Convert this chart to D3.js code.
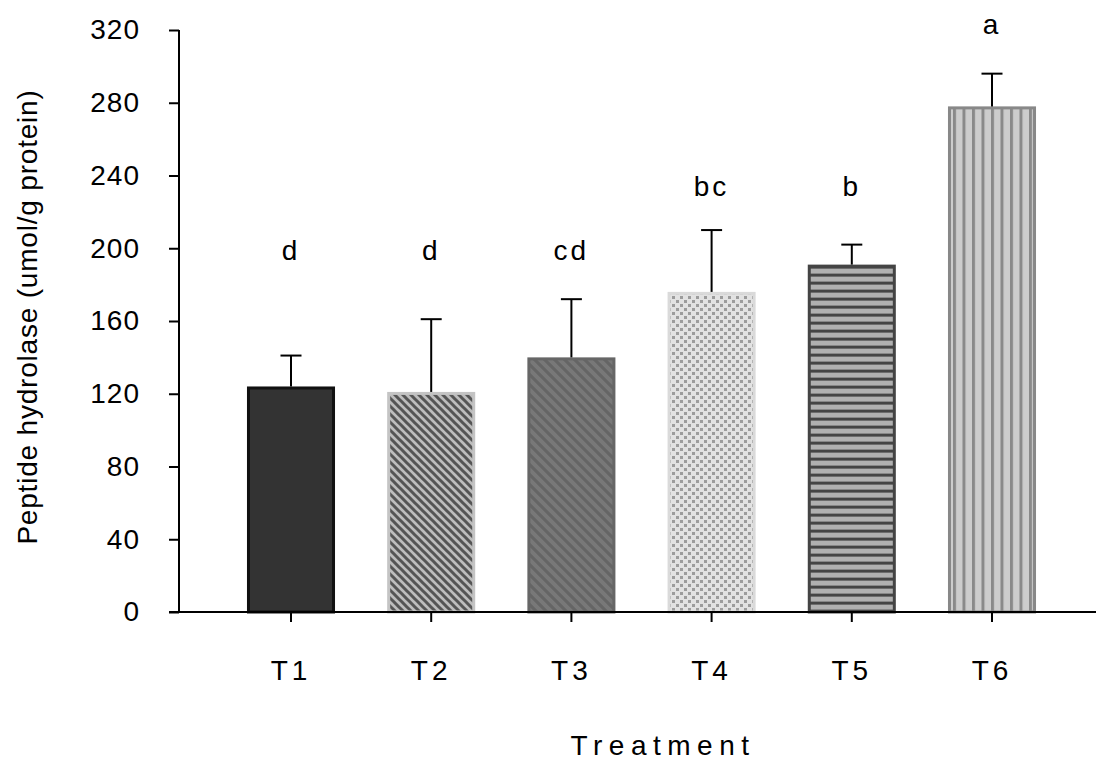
<!DOCTYPE html>
<html><head><meta charset="utf-8">
<script src="https://cdn.jsdelivr.net/npm/d3@7"></script>
<style>body{margin:0;background:#fff}text{font-family:Arial,"Liberation Sans",sans-serif}</style>
</head><body>
<svg id="c" width="1096" height="764"></svg>
<script>
const categories = ["T1","T2","T3","T4","T5","T6"];
const means = [124, 121, 140, 176, 191, 278];
const errors = [17, 40, 32, 34, 11, 18];
const letters = ["d","d","cd","bc","b","a"];
const letterPos = [199, 199, 199, 234, 234, 323];
const yTicks = [0,40,80,120,160,200,240,280,320];

const svg = d3.select("#c");
const x = d3.scaleBand().domain(categories).range([220.9, 1062.1]).paddingInner(0.372).paddingOuter(0.186);
const y = d3.scaleLinear().domain([0,320]).range([612,30]);
const FONT = "Arial, Liberation Sans, sans-serif";

const defs = svg.append("defs");
let p = defs.append("pattern").attr("id","p2").attr("patternUnits","userSpaceOnUse").attr("width",8).attr("height",8);
p.append("rect").attr("width",8).attr("height",8).attr("fill","#bdbdbd");
p.append("path").attr("d","M-2,6 L2,10 M0,0 L8,8 M6,-2 L10,2").attr("stroke","#555").attr("stroke-width",3);
p = defs.append("pattern").attr("id","p3").attr("patternUnits","userSpaceOnUse").attr("width",10).attr("height",10);
p.append("rect").attr("width",10).attr("height",10).attr("fill","#656565");
p.append("path").attr("d","M-2,8 L2,12 M0,0 L10,10 M8,-2 L12,2").attr("stroke","#787878").attr("stroke-width",4);
p = defs.append("pattern").attr("id","p4").attr("patternUnits","userSpaceOnUse").attr("width",8).attr("height",8);
p.append("rect").attr("width",8).attr("height",8).attr("fill","#e2e2e2");
p.append("rect").attr("x",0).attr("y",0).attr("width",3).attr("height",3).attr("fill","#9c9c9c");
p.append("rect").attr("x",4).attr("y",4).attr("width",3).attr("height",3).attr("fill","#9c9c9c");
p = defs.append("pattern").attr("id","p5").attr("patternUnits","userSpaceOnUse").attr("width",8).attr("height",8).attr("y",y(191)+1);
p.append("rect").attr("width",8).attr("height",8).attr("fill","#b0b0b0");
p.append("rect").attr("width",8).attr("height",3).attr("fill","#444");
p = defs.append("pattern").attr("id","p6").attr("patternUnits","userSpaceOnUse").attr("width",9.5).attr("height",9).attr("x",x("T6")+5);
p.append("rect").attr("width",9.5).attr("height",9).attr("fill","#cdcdcd");
p.append("rect").attr("width",3).attr("height",9).attr("fill","#8a8a8a");

const fills = ["#333333","url(#p2)","url(#p3)","url(#p4)","url(#p5)","url(#p6)"];
const strokes = ["#111","#c4c4c4","#666","#dadada","#444","#888"];

svg.selectAll("rect.bar").data(categories).join("rect")
  .attr("class","bar")
  .attr("x",d=>x(d)+1.5).attr("width",x.bandwidth()-3)
  .attr("y",(d,i)=>y(means[i])+1.5).attr("height",(d,i)=>y(0)-y(means[i])-1.5)
  .attr("fill",(d,i)=>fills[i]).attr("stroke",(d,i)=>strokes[i]).attr("stroke-width",3);

const cx = d=>x(d)+x.bandwidth()/2;
svg.selectAll("line.err").data(categories).join("line")
  .attr("x1",cx).attr("x2",cx)
  .attr("y1",(d,i)=>y(means[i])).attr("y2",(d,i)=>y(means[i]+errors[i]))
  .attr("stroke","#000").attr("stroke-width",2);
svg.selectAll("line.cap").data(categories).join("line")
  .attr("x1",d=>cx(d)-10.5).attr("x2",d=>cx(d)+10.5)
  .attr("y1",(d,i)=>y(means[i]+errors[i])).attr("y2",(d,i)=>y(means[i]+errors[i]))
  .attr("stroke","#000").attr("stroke-width",2);

svg.selectAll("text.let").data(categories).join("text")
  .attr("x",cx).attr("y",(d,i)=>y(letterPos[i]))
  .attr("dy","0.35em").attr("text-anchor","middle")
  .attr("font-size",28).attr("letter-spacing",3).text((d,i)=>letters[i]);

const ya = svg.append("g").attr("transform","translate(179,0)")
  .call(d3.axisLeft(y).tickValues(yTicks).tickSize(10).tickPadding(29));
ya.select(".domain").attr("stroke-width",2).attr("d","M0,30V612");
ya.selectAll(".tick line").attr("stroke-width",2);
ya.selectAll("text").attr("font-size",28).attr("letter-spacing",1).attr("fill","#000").attr("font-family",FONT);

const xa = svg.append("g").attr("transform","translate(0,612)")
  .call(d3.axisBottom(x).tickSize(10).tickPadding(38));
xa.select(".domain").attr("stroke-width",2).attr("d","M169,0H1096");
xa.selectAll(".tick line").attr("stroke-width",2);
xa.selectAll("text").attr("font-size",28).attr("letter-spacing",4).attr("fill","#000").attr("font-family",FONT);

svg.append("text").attr("x",663).attr("y",755).attr("text-anchor","middle")
  .attr("font-size",28).attr("letter-spacing",6.5).text("Treatment");
svg.append("text").attr("transform","translate(37,317) rotate(-90)").attr("text-anchor","middle")
  .attr("font-size",28).attr("letter-spacing",0.8).text("Peptide hydrolase (umol/g protein)");
</script>
</body></html>
